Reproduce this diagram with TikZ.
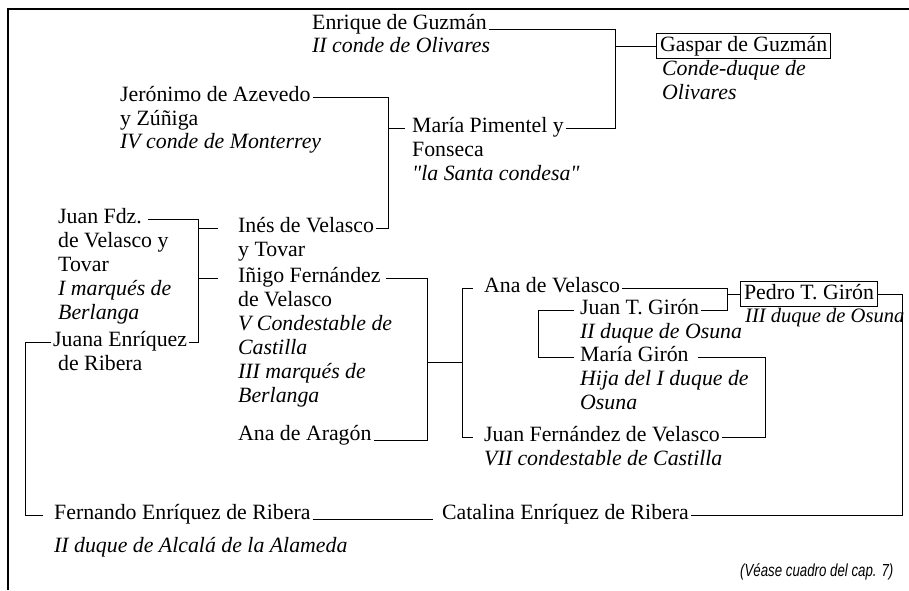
\documentclass[tikz,border=0pt]{standalone}
\usepackage{fontspec}
\setmainfont{Liberation Serif}
\newfontfamily\notefont[FakeStretch=0.76]{Liberation Sans}
\usepackage{tikz}

\begin{document}
\begin{tikzpicture}[x=0.55pt, y=-0.55pt]
	\useasboundingbox (0,0) rectangle (909,590);
	\draw[line width=1pt] (8,590) |- (909,9);
	\begin{scope}[every node/.style = {anchor=west, inner xsep=1pt, inner ysep=0pt,
			text height=1ex, text depth=0pt, font=\fontsize{12}{14}\selectfont},
		ti/.style = {font=\fontsize{12}{14}\selectfont\itshape},
		framed/.style = {draw, line width=0.5pt, inner xsep=2pt, inner ysep=1.5pt,
			text height=8.2pt, text depth=2.4pt}]
		\node (enr) at (310,25) {Enrique de Guzmán};
		\node[ti] (enr2) at (310,48) {II conde de Olivares};
		\node[framed] (gas) at (656,46) {Gaspar de Guzmán};
		\node[ti] (gas2) at (660,71) {Conde-duque de};
		\node[ti] (gas3) at (660,95) {Olivares};
		\node (jer) at (118,97) {Jerónimo de Azevedo};
		\node (jer2) at (118,121) {y Zúñiga};
		\node[ti] (jer3) at (118,144) {IV conde de Monterrey};
		\node (mar) at (410,128) {María Pimentel y};
		\node (mar2) at (410,152) {Fonseca};
		\node[ti] (mar3) at (410,176) {\textquotedbl la Santa condesa\textquotedbl};
		\node (ine) at (236,228) {Inés de Velasco};
		\node (ine2) at (236,252) {y Tovar};
		\node (jfd) at (56,219) {Juan Fdz.};
		\node (jfd2) at (56,243) {de Velasco y};
		\node (jfd3) at (56,267) {Tovar};
		\node[ti] (jfd4) at (56,291) {I marqués de};
		\node[ti] (jfd5) at (56,315) {Berlanga};
		\node (jua) at (51,342) {Juana Enríquez};
		\node (jua2) at (56,366) {de Ribera};
		\node (ini) at (236,278) {Iñigo Fernández};
		\node (ini2) at (236,302) {de Velasco};
		\node[ti] (ini3) at (236,326) {V Condestable de};
		\node[ti] (ini4) at (236,350) {Castilla};
		\node[ti] (ini5) at (236,374) {III marqués de};
		\node[ti] (ini6) at (236,398) {Berlanga};
		\node (ara) at (236,436) {Ana de Aragón};
		\node (anv) at (482,288) {Ana de Velasco};
		\node (jtg) at (578,310) {Juan T. Girón};
		\node[ti] (jtg2) at (578,334) {II duque de Osuna};
		\node (mgi) at (578,357) {María Girón};
		\node[ti] (mgi2) at (578,381) {Hija del I duque de};
		\node[ti] (mgi3) at (578,405) {Osuna};
		\node (jfv) at (482,437) {Juan Fernández de Velasco};
		\node[ti] (jfv2) at (482,461) {VII condestable de Castilla};
		\node[framed] (ped) at (740,294) {Pedro T. Girón};
		\node[ti, font=\fontsize{11.3}{14}\selectfont\itshape] (ped2) at (743,318) {III duque de Osuna};
		\node (fer) at (52,515) {Fernando Enríquez de Ribera};
		\node[ti] (fer2) at (52,548) {II duque de Alcalá de la Alameda};
		\node (cat) at (440,515) {Catalina Enríquez de Ribera};
		\node[font=\notefont\fontsize{9.6}{12}\selectfont\itshape] (note) at (738,572) {(Véase cuadro del cap. 7)};
	\end{scope}
	% junction columns
	\coordinate (jA) at (615,0);
	\coordinate (jB) at (388,0);
	\coordinate (jC) at (198,0);
	\coordinate (jD) at (25,0);
	\coordinate (jE) at (427,362);
	\coordinate (jF) at (462,0);
	\coordinate (jG) at (727,0);
	\coordinate (jH) at (538,0);
	\coordinate (jI) at (765,0);
	\coordinate (jJ) at (902,0);
	\begin{scope}[line width=0.5pt]
		\draw (enr.base east) -| (jA |- mar.east) -- (mar.east);
		\draw (jA |- gas.west) -- (gas.west);
		\draw (jer.east) -| (jB |- ine.east) -- (ine.east);
		\draw[shorten >=3pt] (jB |- mar.west) -- (mar.west);
		\draw[shorten <=2pt] (jfd.east) -| (jC |- jua.east) -- (jua.east);
		\draw[shorten >=10pt] (jC |- ine.west) -- (ine.west);
		\draw[shorten >=10pt] (jC |- ini.west) -- (ini.west);
		\draw[shorten >=5pt] (jua.west) -| (jD |- fer.west) -- (fer.west);
		\draw[shorten <=2pt] (ini.east) -| (jE |- ara.base east) -- (ara.base east);
		\draw (jE) -- (jF |- jE);
		\draw[shorten <=5pt, shorten >=5pt] (anv.west) -| (jF |- jfv.west) -- (jfv.west);
		\draw (anv.east) -| (jG |- jtg.east) -- (jtg.east);
		\draw (jG |- ped.west) -- (ped.west);
		\draw[shorten <=2pt, shorten >=2pt] (jtg.west) -| (jH |- mgi.west) -- (mgi.west);
		\draw[shorten <=4pt] (mgi.east) -| (jI |- jfv.east) -- (jfv.east);
		\draw (ped.east) -| (jJ |- cat.east) -- (cat.east);
		\draw[shorten >=4pt] (fer.base east) -- (cat.base west);
	\end{scope}
\end{tikzpicture}
\end{document}
